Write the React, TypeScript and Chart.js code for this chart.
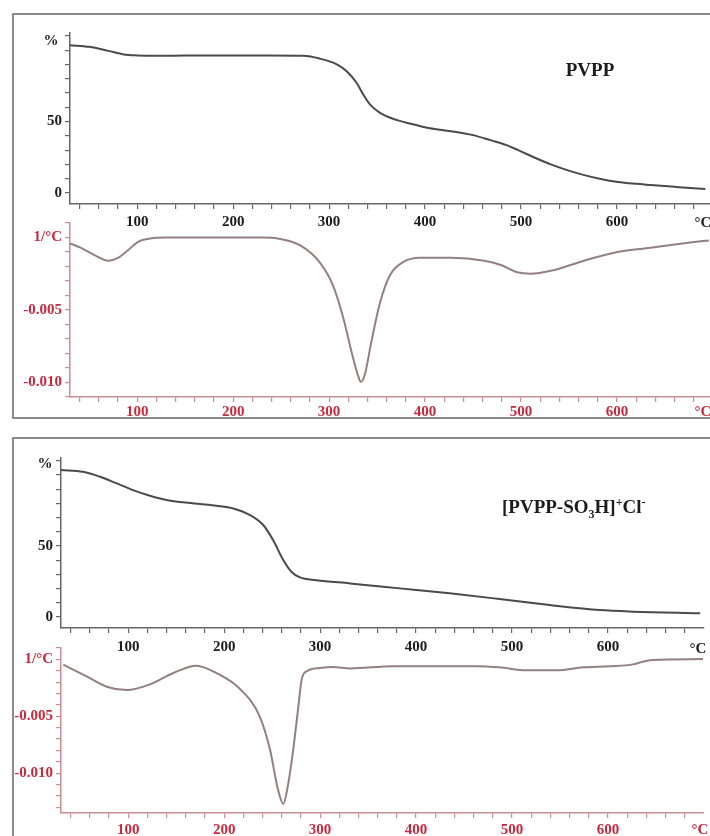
import React, { useEffect, useRef } from "react";
import { Chart, registerables } from "chart.js";
Chart.register(...registerables);

// ---------- data ----------
const pvppTgaTemp = [30, 50, 70, 86, 100, 122, 150, 200, 238, 273, 290, 308, 318, 328.6, 335.5, 342.5, 353, 366.8, 384, 405, 427, 450, 468, 485, 497, 515, 531, 548, 565, 583, 601, 620, 635, 660, 680, 692];
const pvppTgaMass = [103.5, 102.3, 99.5, 97, 96.3, 96, 96.2, 96.3, 96.3, 96, 94.1, 90.1, 85.4, 77.2, 69, 62, 56.1, 51.9, 48.6, 45.3, 43.3, 40.5, 37, 33.5, 30, 24.5, 20, 16, 12.7, 9.8, 7.7, 6.4, 5.6, 4.3, 3.3, 2.8];

const pvppDtgTemp = [30, 41, 55, 70, 80, 90, 101, 111, 130, 180, 230, 249, 270, 290, 304, 315, 323.4, 330, 333, 337, 344, 353, 363.4, 377, 395, 427, 461.6, 479, 496, 510, 531, 565.6, 600.5, 635, 670, 695.6];
const pvppDtgRate = [-0.0004, -0.0007, -0.0012, -0.0016, -0.0014, -0.0009, -0.0003, -0.0001, 0, 0, 0, -0.0001, -0.00055, -0.0017, -0.0033, -0.0056, -0.0079, -0.0095, -0.00995, -0.0095, -0.0072, -0.0045, -0.0026, -0.0017, -0.0014, -0.0014, -0.0016, -0.0019, -0.0024, -0.0025, -0.0023, -0.0016, -0.001, -0.0007, -0.0004, -0.0002];

const sulfTgaTemp = [30, 53, 70.6, 88, 105, 122.7, 140, 157.4, 174.8, 192, 209.5, 227, 240.7, 251, 261.6, 270, 279, 296, 331, 383, 435, 487, 539, 591.5, 626, 696];
const sulfTgaMass = [103.5, 102.3, 98.8, 94.1, 89.4, 85.4, 82.4, 80.8, 79.6, 78.4, 76.5, 71.8, 64.8, 54.2, 40.1, 31.9, 27.9, 26, 23.7, 20.2, 16.7, 12.7, 8.5, 4.9, 3.8, 2.6];

const sulfDtgTemp = [32.4, 56.7, 77.6, 98.4, 122.7, 147, 171, 192, 216.5, 237, 247.7, 256, 261.6, 266.8, 272, 277, 280.7, 286, 299.8, 313.6, 331, 376, 463, 487, 515, 546, 574, 602, 626, 636, 647, 699];
const sulfDtgRate = [-0.00047, -0.0015, -0.0024, -0.0027, -0.0022, -0.0012, -0.00055, -0.0012, -0.0026, -0.005, -0.0079, -0.0114, -0.0127, -0.0109, -0.0079, -0.0044, -0.0018, -0.00105, -0.00076, -0.00067, -0.0008, -0.0006, -0.0006, -0.0007, -0.00096, -0.00096, -0.0007, -0.0006, -0.00044, -0.0002, -0.00006, 0.00003];

const xTickLabels = [100, 200, 300, 400, 500, 600];
const tgaTickLabels = [0, 50];
const dtgTickLabels = [-0.005, -0.01];

// ---------- styling ----------
const FONT = '"Liberation Serif", "Times New Roman", serif';
const CANVAS_W = 720;
const PAD_TOP = 20;
const X_MIN = 30;
const X_MAX = 700;
const BLACK = "#1c1c1c";
const RED = "#c62a3e";

type Spec = {
  temps: number[];
  vals: number[];
  plotLeft: number;
  plotRight: number;
  plotTop: number;
  plotBottom: number;
  xAxisH: number;
  xLabelPad: number;
  yMin: number;
  yMax: number;
  yStep: number;
  kind: "tga" | "dtg";
  lineColor: string;
  axisColor: string;
  labelColor: string;
};

const near = (a: number, b: number) => Math.abs(a - b) < 1e-9;
const isMult = (v: number, s: number) => Math.abs(v / s - Math.round(v / s)) < 1e-6;

function ChartPanel({ spec }: { spec: Spec }) {
  const ref = useRef<HTMLCanvasElement>(null);
  const H = PAD_TOP + (spec.plotBottom - spec.plotTop) + spec.xAxisH;
  useEffect(() => {
    const tickFont = { family: FONT, size: 15, weight: "bold" as const };
    const chart = new Chart(ref.current!, {
      type: "line",
      data: {
        datasets: [
          {
            data: spec.temps.map((t, i) => ({ x: t, y: spec.vals[i] })),
            borderColor: spec.lineColor,
            borderWidth: 2,
            pointRadius: 0,
            cubicInterpolationMode: "monotone",
            fill: false,
          },
        ],
      },
      options: {
        animation: false,
        responsive: false,
        maintainAspectRatio: false,
        layout: { padding: { top: PAD_TOP, left: 0, right: CANVAS_W - spec.plotRight, bottom: 0 } },
        plugins: { legend: { display: false }, tooltip: { enabled: false } },
        scales: {
          x: {
            type: "linear",
            min: X_MIN,
            max: X_MAX,
            afterFit: (s: any) => {
              s.height = spec.xAxisH;
            },
            border: { display: true, color: spec.axisColor, width: 1.5 },
            grid: {
              drawOnChartArea: false,
              drawTicks: true,
              tickLength: 5,
              lineWidth: 1.2,
              color: (ctx: any) => {
                const v = ctx.tick ? ctx.tick.value : 0;
                return isMult(v, 20) && v > X_MIN && v < X_MAX ? spec.axisColor : "rgba(0,0,0,0)";
              },
            },
            ticks: {
              stepSize: 20,
              includeBounds: false,
              autoSkip: false,
              maxRotation: 0,
              padding: spec.xLabelPad,
              color: spec.labelColor,
              font: tickFont,
              callback: (v: any) => (xTickLabels.some((t) => near(t, Number(v))) ? String(v) : ""),
            },
          },
          y: {
            type: "linear",
            min: spec.yMin,
            max: spec.yMax,
            afterFit: (s: any) => {
              s.width = spec.plotLeft;
            },
            border: { display: true, color: spec.axisColor, width: 1.5 },
            grid: {
              drawOnChartArea: false,
              drawTicks: true,
              tickLength: 5,
              lineWidth: 1.2,
              color: (ctx: any) => {
                const v = ctx.tick ? ctx.tick.value : 0;
                return isMult(v, spec.yStep) ? spec.axisColor : "rgba(0,0,0,0)";
              },
            },
            ticks: {
              stepSize: spec.yStep,
              includeBounds: false,
              autoSkip: false,
              padding: 3,
              color: spec.labelColor,
              font: tickFont,
              callback: (v: any) => {
                const n = Number(v);
                if (spec.kind === "tga") {
                  return tgaTickLabels.some((t) => near(t, n)) ? String(Math.round(n)) : "";
                }
                if (near(n, 0)) return "1/°C";
                return dtgTickLabels.some((t) => near(t, n)) ? n.toFixed(3) : "";
              },
            },
          },
        },
      },
    } as any);
    return () => chart.destroy();
  }, []);
  return (
    <canvas
      ref={ref}
      width={CANVAS_W}
      height={H}
      style={{ position: "absolute", left: 0, top: spec.plotTop - PAD_TOP, width: CANVAS_W, height: H }}
    />
  );
}

const TGA_LINE = "#4a4a4a";
const DTG_LINE = "#947f82";
const TGA_AXIS = "#666666";
const DTG_AXIS = "#c98d92";

const specs: Spec[] = [
  {
    temps: pvppTgaTemp, vals: pvppTgaMass, plotLeft: 70, plotRight: 713, plotTop: 33, plotBottom: 204,
    xAxisH: 30, xLabelPad: 4, yMin: -7.7, yMax: 112, yStep: 10, kind: "tga",
    lineColor: TGA_LINE, axisColor: TGA_AXIS, labelColor: BLACK,
  },
  {
    temps: pvppDtgTemp, vals: pvppDtgRate, plotLeft: 70, plotRight: 713, plotTop: 223, plotBottom: 397,
    xAxisH: 22, xLabelPad: 1, yMin: -0.011, yMax: 0.001, yStep: 0.001, kind: "dtg",
    lineColor: DTG_LINE, axisColor: DTG_AXIS, labelColor: RED,
  },
  {
    temps: sulfTgaTemp, vals: sulfTgaMass, plotLeft: 61, plotRight: 704, plotTop: 458, plotBottom: 628,
    xAxisH: 30, xLabelPad: 5, yMin: -7.7, yMax: 112, yStep: 10, kind: "tga",
    lineColor: TGA_LINE, axisColor: TGA_AXIS, labelColor: BLACK,
  },
  {
    temps: sulfDtgTemp, vals: sulfDtgRate, plotLeft: 61, plotRight: 704, plotTop: 648, plotBottom: 813,
    xAxisH: 23, xLabelPad: 3, yMin: -0.0135, yMax: 0.001, yStep: 0.001, kind: "dtg",
    lineColor: DTG_LINE, axisColor: DTG_AXIS, labelColor: RED,
  },
];

function Label({ x, y, color, size, children, align = "center" }: any) {
  return (
    <div
      style={{
        position: "absolute",
        left: x,
        top: y,
        transform: align === "center" ? "translate(-50%, -50%)" : "translate(0, -50%)",
        color,
        fontFamily: FONT,
        fontWeight: "bold",
        fontSize: size,
        lineHeight: 1,
        whiteSpace: "nowrap",
      }}
    >
      {children}
    </div>
  );
}

export default function App() {
  return (
    <div
      style={{
        position: "absolute",
        left: 0,
        top: 0,
        width: 710,
        height: 836,
        overflow: "hidden",
        background: "#ffffff",
      }}
    >
      <div style={{ position: "absolute", left: 12, top: 13, width: 730, height: 406, border: "2px solid #8a8a8a", boxSizing: "border-box" }} />
      <div style={{ position: "absolute", left: 12, top: 437, width: 730, height: 430, border: "2px solid #8a8a8a", boxSizing: "border-box" }} />
      {specs.map((s, i) => (
        <ChartPanel key={i} spec={s} />
      ))}
      <Label x={51} y={40} color={BLACK} size={15}>%</Label>
      <Label x={45} y={463} color={BLACK} size={15}>%</Label>
      <Label x={703} y={222} color={BLACK} size={15}>°C</Label>
      <Label x={703} y={411} color={RED} size={15}>°C</Label>
      <Label x={698} y={648} color={BLACK} size={15}>°C</Label>
      <Label x={700} y={829} color={RED} size={15}>°C</Label>
      <Label x={590} y={69} color={BLACK} size={19}>PVPP</Label>
      <Label x={502} y={508} color={BLACK} size={19} align="left">
        [PVPP-SO<sub style={{ fontSize: 12 }}>3</sub>H]<sup style={{ fontSize: 12 }}>+</sup>Cl<sup style={{ fontSize: 12 }}>-</sup>
      </Label>
    </div>
  );
}
